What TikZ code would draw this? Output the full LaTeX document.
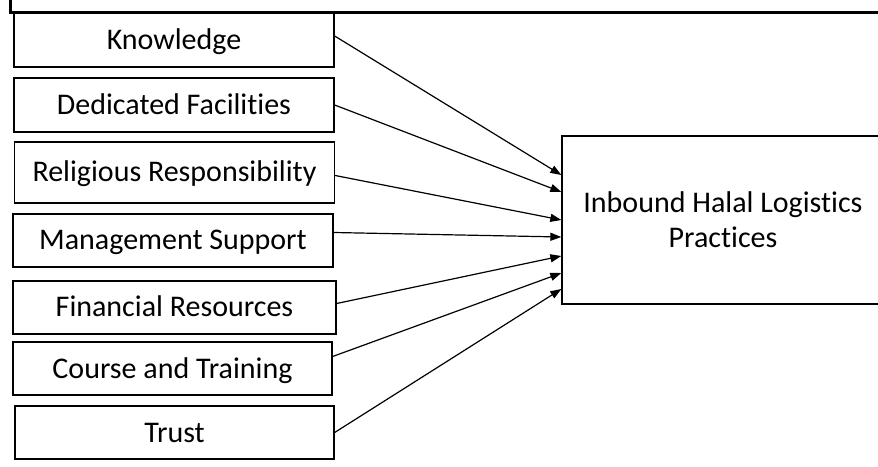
\documentclass[tikz,border=0pt]{standalone}
\usepackage{fontspec}
\setmainfont{Carlito}[Ligatures=NoCommon]
\usetikzlibrary{arrows.meta}
\begin{document}
\begin{tikzpicture}[x=1pt,y=1pt,
  factor/.style={draw=black,line width=1.3pt,rectangle,inner sep=0pt,
    text height=19pt,text depth=0pt,
    minimum width=320pt,minimum height=54pt,font=\fontsize{30}{36}\selectfont},
  outcome/.style={draw=black,line width=1.3pt,rectangle,inner sep=0pt,
    minimum width=322pt,minimum height=168pt,align=center,
    font=\fontsize{30}{35}\selectfont},
  link/.style={line width=1.2pt,-{Triangle[length=11pt,width=8pt]}},
  frame/.style={line width=3pt}]
\useasboundingbox (0,0) rectangle (878,466);
\clip (0,0) rectangle (878,466);
% outer frame (top and left edges)
\draw[frame] (10,466) -- (10,453.5) -- (878,453.5);
% determinant boxes
\node[factor] (kn) at (174,426) {Knowledge};
\node[factor] (df) at (174,361) {Dedicated Facilities};
\node[factor,minimum height=61pt] (rr) at (174.5,293.5) {Religious Responsibility};
\node[factor,minimum height=53pt] (ms) at (173,225.5) {Management Support};
\node[factor,minimum width=323pt,minimum height=53pt] (fr) at (174.5,158.5) {Financial Resources};
\node[factor,minimum width=319pt,minimum height=53pt] (ct) at (172.5,97.5) {Course and Training};
\node[factor,minimum width=319pt,minimum height=53pt] (tr) at (174.5,33.5) {Trust};
% outcome box
\node[outcome] (ih) at (723,246) {Inbound Halal Logistics\\Practices};
% relationships
\draw[link] ([yshift=4pt]kn.east) -- ([yshift=45pt]ih.west);
\draw[link] (df.east) -- ([yshift=28pt]ih.west);
\draw[link] ([yshift=-3pt]rr.east) -- ([yshift=0pt]ih.west);
\draw[link] ([yshift=8pt]ms.east) -- ([yshift=-17pt]ih.west);
\draw[link] ([yshift=4pt]fr.east) -- ([yshift=-36pt]ih.west);
\draw[link] ([yshift=12pt]ct.east) -- ([yshift=-53pt]ih.west);
\draw[link] (tr.east) -- ([yshift=-69pt]ih.west);
\end{tikzpicture}
\end{document}
